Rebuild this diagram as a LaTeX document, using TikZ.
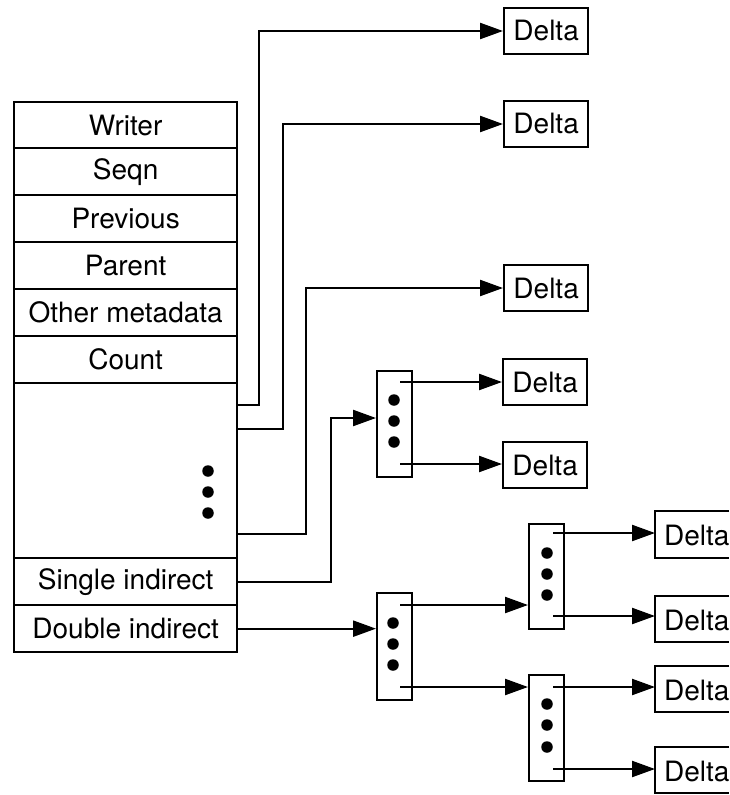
\documentclass[tikz,border=0pt]{standalone}
\usepackage{fontspec}
\setmainfont{TeX Gyre Heros}
\usetikzlibrary{arrows.meta}
\begin{document}
\begin{tikzpicture}[x=1pt,y=-1pt,
  every node/.style={font=\fontsize{28}{33}\selectfont},
  ln/.style={line width=2.3pt},
  cell/.style={draw, line width=2.3pt, minimum width=223pt, inner sep=0pt, anchor=north west},
  delta/.style={draw, line width=2.3pt, minimum width=84pt, minimum height=46pt, inner sep=0pt, anchor=west},
  deltatext/.style={inner sep=0pt, anchor=west},
  ptr/.style={draw, line width=2.3pt, minimum width=35pt, inner sep=0pt, anchor=north west},
  arr/.style={line width=2.3pt, -{Triangle[length=23pt,width=16pt]}},
  dot/.style={circle, fill, inner sep=0pt, minimum size=11.5pt}
]
\useasboundingbox (0,0) rectangle (729,795);
\clip (0,0) rectangle (729,795);

% main table
\node[cell, minimum height=46pt] (writer) at (13,101) {Writer};
\node[cell, minimum height=47pt] (seqn) at (13,147) {Seqn};
\node[cell, minimum height=47pt] (previous) at (13,194) {Previous};
\node[cell, minimum height=47pt] (parent) at (13,241) {Parent};
\node[cell, minimum height=47pt] (other) at (13,288) {Other metadata};
\node[cell, minimum height=47pt] (count) at (13,335) {Count};
\node[cell, minimum height=175pt] (blank) at (13,382) {};
\node[cell, minimum height=47pt] (single) at (13,557) {Single indirect};
\node[cell, minimum height=47pt] (double) at (13,604) {Double indirect};
\node[dot] (m1) at (208,471) {};
\node[dot] (m2) at (208,492) {};
\node[dot] (m3) at (208,513) {};

% delta blocks
\node[delta] (d1) at (503,31) {Delta};
\node[delta] (d2) at (503,124) {Delta};
\node[delta] (d3) at (503,288) {Delta};
\node[delta] (d4) at (502,382) {Delta};
\node[delta] (d5) at (502,465) {Delta};
% delta blocks cut by the right edge
\coordinate (col) at (655,0);
\coordinate (edge) at (729,0);
\draw[ln] (729,511) -| (655,558) -- (729,558);
\draw[ln] (729,596) -| (655,642) -- (729,642);
\draw[ln] (729,666) -| (655,712) -- (729,712);
\draw[ln] (729,747) -| (655,793) -- (729,793);
\node[deltatext] (d6) at (664,535) {Delta};
\node[deltatext] (d7) at (664,620) {Delta};
\node[deltatext] (d8) at (664,690) {Delta};
\node[deltatext] (d9) at (664,771) {Delta};

% pointer blocks
\node[ptr, minimum height=106pt] (ind1) at (376,370) {};
\node[ptr, minimum height=107pt] (dbl) at (376,592) {};
\node[ptr, minimum height=105pt] (subA) at (528,523) {};
\node[ptr, minimum height=106pt] (subB) at (528,674) {};
\foreach \n/\x/\y in {i1/394/400, i2/394/421, i3/394/442,
                      b1/393/623, b2/393/644, b3/393/665,
                      a1/547/553, a2/547/574, a3/547/595,
                      c1/547/704, c2/547/725, c3/547/747}
  \node[dot] (\n) at (\x,\y) {};

% connector start points
\coordinate (p1) at (236,405);
\coordinate (p2) at (236,429);
\coordinate (p3) at (236,534);
\coordinate (q4) at (376,418);
\coordinate (i1a) at (400,382);
\coordinate (i1b) at (400,464);
\coordinate (dba) at (400,605);
\coordinate (dbb) at (400,687);
\coordinate (saa) at (553,533);
\coordinate (sab) at (553,616);
\coordinate (sba) at (553,687);
\coordinate (sbb) at (553,769);

% connectors
\draw[arr] (p1) -- ++(23,0) |- (d1.west);
\draw[arr] (p2) -- ++(47,0) |- (d2.west);
\draw[arr] (p3) -- ++(70,0) |- (d3.west);
\draw[arr] (single.east) -- ++(93,0) |- (q4);
\draw[arr] (double.east) -- (double.east -| dbl.west);
\draw[arr] (i1a) -- (i1a -| d4.west);
\draw[arr] (i1b) -- (i1b -| d5.west);
\draw[arr] (dba) -- (dba -| subA.west);
\draw[arr] (dbb) -- (dbb -| subB.west);
\draw[arr] (saa) -- (saa -| col);
\draw[arr] (sab) -- (sab -| col);
\draw[arr] (sba) -- (sba -| col);
\draw[arr] (sbb) -- (sbb -| col);
\end{tikzpicture}
\end{document}
